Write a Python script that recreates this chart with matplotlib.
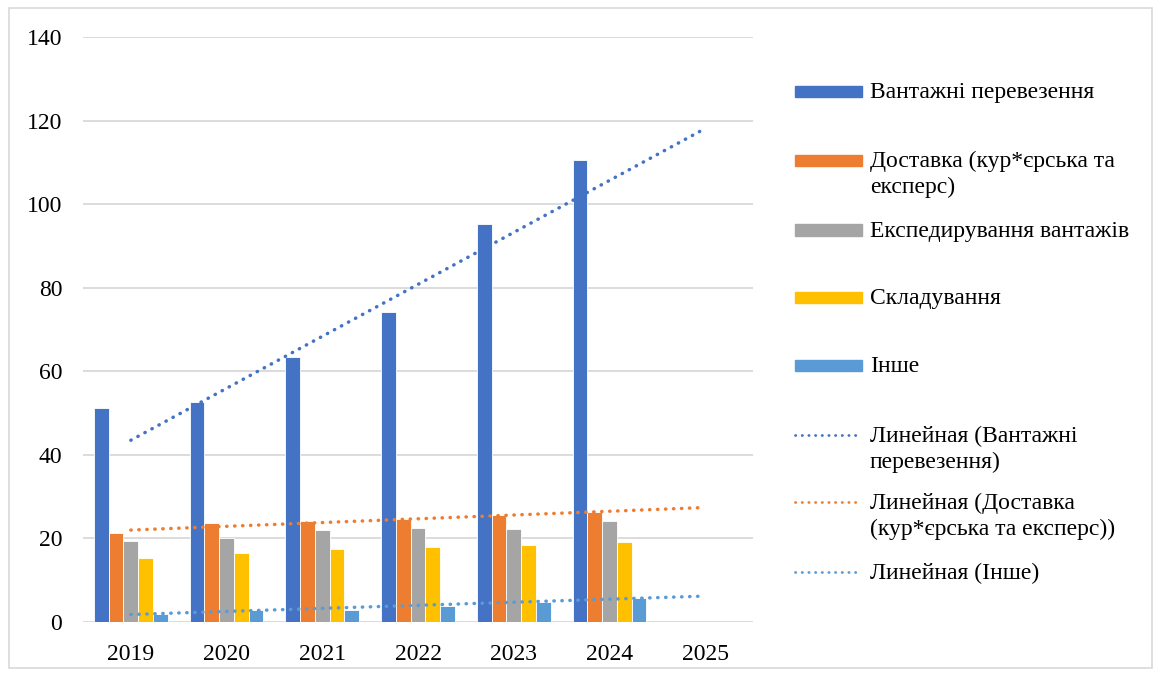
import matplotlib
matplotlib.use("Agg")
import matplotlib.pyplot as plt
from matplotlib.patches import Rectangle
from matplotlib.lines import Line2D
import numpy as np

YEARS = ["2019", "2020", "2021", "2022", "2023", "2024", "2025"]

CARGO = [51.2, 52.6, 63.5, 74.2, 95.3, 110.5]
DELIVERY = [21.4, 23.6, 24.1, 24.6, 25.5, 26.4]
FORWARDING = [19.5, 20.2, 22.0, 22.5, 22.3, 24.2]
STORAGE = [15.3, 16.5, 17.5, 17.9, 18.4, 19.1]
OTHER = [2.0, 2.9, 2.9, 3.8, 4.9, 5.8]

# trend line values read at 2019 and 2025
TREND_CARGO = [43.5, 118.1]
TREND_DELIVERY = [22.0, 27.4]
TREND_OTHER = [1.8, 6.2]

LABELS = [
    "Вантажні перевезення",
    "Доставка (кур*єрська та\nексперс)",
    "Експедирування вантажів",
    "Складування",
    "Інше",
    "Линейная (Вантажні\nперевезення)",
    "Линейная (Доставка\n(кур*єрська та експерс))",
    "Линейная (Інше)",
]

BLUE = "#4472C4"
ORANGE = "#ED7D31"
GRAY = "#A5A5A5"
GOLD = "#FFC000"
LIGHTBLUE = "#5B9BD5"

plt.rcParams["font.family"] = ["Liberation Serif", "DejaVu Serif"]

W, H = 1161, 675
fig = plt.figure(figsize=(W / 100, H / 100), dpi=100)


def fx(px):
    return px / W


def fy(py):
    return 1 - py / H


ax = fig.add_axes([fx(83), fy(622), fx(753) - fx(83), fy(37) - fy(622)])

series = [CARGO, DELIVERY, FORWARDING, STORAGE, OTHER]
colors = [BLUE, ORANGE, GRAY, GOLD, LIGHTBLUE]
bw = 1 / 6.5
x = np.arange(len(CARGO))
for i, (vals, c) in enumerate(zip(series, colors)):
    ax.bar(x + (i - 2) * bw, vals, width=bw, color=c,
           edgecolor="white", linewidth=0.6, zorder=2)

dot = dict(linestyle=(0, (0.1, 2.2)), dash_capstyle="round", linewidth=2.5, zorder=3)
tx = [0, len(YEARS) - 1]
ax.plot(tx, TREND_CARGO, color=BLUE, **dot)
ax.plot(tx, TREND_DELIVERY, color=ORANGE, **dot)
ax.plot(tx, TREND_OTHER, color=LIGHTBLUE, **dot)

ax.set_xlim(-0.5, len(YEARS) - 0.5)
ax.set_ylim(0, 140)
ax.set_yticks(range(0, 141, 20))
ax.set_xticks(range(len(YEARS)))
ax.set_xticklabels(YEARS)
ax.grid(axis="y", color="#D9D9D9", linewidth=1.3, zorder=0)
ax.set_axisbelow(True)
for s in ax.spines.values():
    s.set_visible(False)
ax.tick_params(length=0, labelsize=17, colors="black")
ax.tick_params(axis="y", pad=15)
ax.tick_params(axis="x", pad=16)

# outer chart border
fig.add_artist(Rectangle((fx(9), fy(668)), fx(1152) - fx(9), fy(8) - fy(668),
                         transform=fig.transFigure, fill=False,
                         edgecolor="#D9D9D9", linewidth=1.2))

# legend
entry_y = [91, 160, 230, 297, 365, 435, 502, 572]
for i, (lab, yy) in enumerate(zip(LABELS, entry_y)):
    if i < 5:
        fig.add_artist(Rectangle((fx(795), fy(yy + 5.5)), fx(862) - fx(795),
                                 fy(yy - 5.5) - fy(yy + 5.5),
                                 transform=fig.transFigure, color=colors[i]))
    else:
        lc = [BLUE, ORANGE, LIGHTBLUE][i - 5]
        fig.add_artist(Line2D([fx(795), fx(861)], [fy(yy), fy(yy)],
                              transform=fig.transFigure, color=lc,
                              linestyle=(0, (0.1, 2.3)), dash_capstyle="round",
                              linewidth=2.0))
    fig.text(fx(870), fy(yy - 9), lab, fontsize=17, va="top", ha="left",
             linespacing=1.28)

fig.savefig("out.png", dpi=100)
